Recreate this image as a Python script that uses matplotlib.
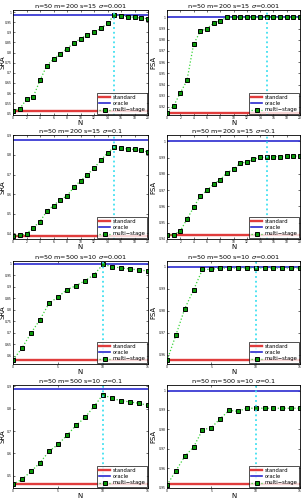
import matplotlib
matplotlib.use("Agg")
import matplotlib.pyplot as plt
import numpy as np

# ---- data ----
titles = [r"n=50 m=200 s=15 $\sigma$=0.001", r"n=50 m=200 s=15 $\sigma$=0.001",
          r"n=50 m=200 s=15 $\sigma$=0.1", r"n=50 m=200 s=15 $\sigma$=0.1",
          r"n=50 m=500 s=10 $\sigma$=0.001", r"n=50 m=500 s=10 $\sigma$=0.001",
          r"n=50 m=500 s=10 $\sigma$=0.1", r"n=50 m=500 s=10 $\sigma$=0.1"]
ylabels = ["SRA", "FSA", "SRA", "FSA", "SRA", "FSA", "SRA", "FSA"]

N_200 = list(range(0, 21))
N_500 = list(range(0, 16))

sra_200_lo = [0.513, 0.523, 0.569, 0.582, 0.663, 0.735, 0.768, 0.794, 0.819, 0.847, 0.868,
              0.888, 0.901, 0.919, 0.944, 0.985, 0.982, 0.977, 0.974, 0.970, 0.967]
fsa_200_lo = [0.9148, 0.9209, 0.9324, 0.9436, 0.9760, 0.9876, 0.9900, 0.9948, 0.9970, 1.0, 1.0,
              1.0, 1.0, 1.0, 1.0, 1.0, 1.0, 1.0, 1.0, 1.0, 1.0]
sra_200_hi = [0.388, 0.389, 0.397, 0.429, 0.460, 0.513, 0.542, 0.571, 0.591, 0.635, 0.668,
              0.699, 0.733, 0.772, 0.811, 0.839, 0.834, 0.831, 0.828, 0.823, 0.815]
fsa_200_hi = [0.9424, 0.9427, 0.9449, 0.9522, 0.9594, 0.9663, 0.9698, 0.9737, 0.9765, 0.9806, 0.9829,
              0.9865, 0.9873, 0.9890, 0.9902, 0.9902, 0.9906, 0.9906, 0.9908, 0.9908, 0.9912]
sra_500_lo = [0.580, 0.633, 0.698, 0.757, 0.828, 0.856, 0.888, 0.905, 0.927, 0.953, 0.9985,
              0.988, 0.983, 0.978, 0.974, 0.969]
fsa_500_lo = [0.9574, 0.9689, 0.9809, 0.9895, 0.9988, 0.9988, 0.9994, 0.9994, 0.9994, 0.9994,
              0.9994, 0.9994, 0.9994, 0.9994, 0.9994, 0.9994]
sra_500_hi = [0.461, 0.484, 0.519, 0.558, 0.609, 0.640, 0.681, 0.725, 0.761, 0.810, 0.863,
              0.846, 0.836, 0.830, 0.824, 0.815]
fsa_500_hi = [0.9512, 0.9586, 0.9660, 0.9709, 0.9797, 0.9809, 0.9855, 0.9898, 0.9893, 0.9909,
              0.9909, 0.9909, 0.9909, 0.9909, 0.9909, 0.9909]

standard = [0.513, 0.9148, 0.388, 0.9422, 0.580, 0.9574, 0.461, 0.9516]
oracle = [0.985, 1.0, 0.878, 1.0, 0.9985, 1.0, 0.890, 1.0]
best_N = [15, 15, 15, 15, 10, 10, 10, 10]

series = [sra_200_lo, fsa_200_lo, sra_200_hi, fsa_200_hi,
          sra_500_lo, fsa_500_lo, sra_500_hi, fsa_500_hi]
xs = [N_200] * 4 + [N_500] * 4
xticks = [list(range(0, 21, 2))] * 4 + [[0, 5, 10, 15]] * 4

ylims = [(0.492, 1.01), (0.9127, 1.0067), (0.371, 0.902), (0.9404, 1.0039),
         (0.563, 1.013), (0.9558, 1.0026), (0.445, 0.906), (0.9497, 1.0029)]
yticks = [np.arange(0.5, 1.001, 0.05), np.arange(0.92, 1.0001, 0.01),
          np.arange(0.4, 0.901, 0.1), np.arange(0.94, 1.0001, 0.01),
          np.arange(0.6, 1.001, 0.05), np.arange(0.96, 1.0001, 0.01),
          np.arange(0.5, 0.901, 0.1), np.arange(0.95, 1.0001, 0.01)]

# ---- layout ----
W, H = 304, 500
fig = plt.figure(figsize=(W / 100, H / 100), dpi=100)
lefts = [13, 167]
rights = [148, 300]
tops = [10, 135, 261, 385]
bottoms = [115, 239, 364, 488]
ylab_x = [-0.055, -0.08]

for i in range(8):
    r, c = divmod(i, 2)
    x0 = lefts[c] / W
    w = (rights[c] - lefts[c]) / W
    y0 = 1 - bottoms[r] / H
    h = (bottoms[r] - tops[r]) / H
    ax = fig.add_axes([x0, y0, w, h])
    x = xs[i]
    ax.plot([x[0], x[-1]], [standard[i]] * 2, color="#e03c3c", lw=1.7, label="standard")
    ax.plot([x[0], x[-1]], [oracle[i]] * 2, color="#2a2ad0", lw=1.2, label="oracle")
    ax.plot(x, series[i], linestyle=":", color="#3ad43a", lw=0.9, marker="s",
            markersize=3.4, markerfacecolor="#0a9a0a", markeredgecolor="black",
            markeredgewidth=0.7, label="multi\u2212stage")
    ax.axvline(best_N[i], color="#40e0f0", linestyle=":", lw=1.3)
    ax.set_xlim(x[0], x[-1])
    ax.set_ylim(*ylims[i])
    ax.set_xticks(xticks[i])
    ax.set_yticks(yticks[i])
    ax.set_yticklabels([("%g" % round(v, 3)) for v in yticks[i]])
    ax.tick_params(labelsize=2.2, length=1.5, width=0.4, direction="in",
                   top=True, right=True, pad=1)
    for s in ax.spines.values():
        s.set_linewidth(0.6)
    ax.set_title(titles[i], fontsize=4.6, pad=1.5)
    ax.set_xlabel("N", fontsize=5, labelpad=-0.5)
    ax.set_ylabel(ylabels[i], fontsize=5)
    ax.yaxis.set_label_coords(ylab_x[c], 0.5)
    leg = ax.legend(loc="lower right", fontsize=3.8, frameon=True, fancybox=False,
                    borderpad=0.3, labelspacing=0.25, handlelength=2.2,
                    handletextpad=0.4, borderaxespad=0.2)
    leg.get_frame().set_edgecolor("black")
    leg.get_frame().set_linewidth(0.6)

fig.savefig("out.png", dpi=100)
